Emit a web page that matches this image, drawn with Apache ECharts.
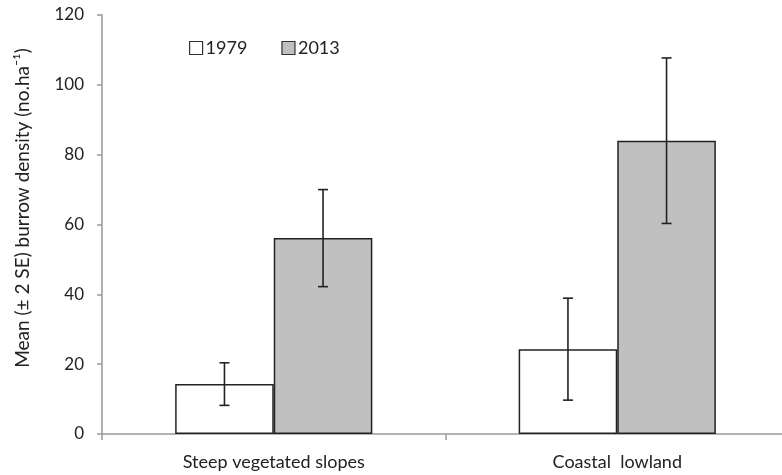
<!DOCTYPE html>
<html>
<head>
<meta charset="utf-8">
<script src="https://cdn.jsdelivr.net/npm/echarts@6/dist/echarts.min.js"></script>
<style>
  html, body { margin: 0; padding: 0; background: #fff; }
  #chart { width: 782px; height: 475px; }
</style>
</head>
<body>
<div id="chart"></div>
<script>
// Habitat categories and survey years
const categories = ['Steep vegetated slopes', 'Coastal  lowland'];
const years = ['1979', '2013'];

// Mean burrow density (no. per ha) by year
const mean1979 = [14.3, 24.3];
const mean2013 = [56.1, 84.0];

// ±2 SE half-widths
const err1979 = [6.1, 14.6];
const err2013 = [13.9, 23.7];

const yTicks = [0, 20, 40, 60, 80, 100, 120];

const FONT = 'Lato, "Open Sans", sans-serif';
const BAR_PCT = 0.287; // bar width as share of category band

function errorSeries(name, means, errs, sideSign) {
  const data = means.map((m, i) => [i, m - errs[i], m + errs[i]]);
  return {
    type: 'custom',
    name: name + ' error',
    z: 10,
    silent: true,
    data: data,
    renderItem: function (params, api) {
      const band = api.size([1, 0])[0];
      const lo = api.coord([api.value(0), api.value(1)]);
      const hi = api.coord([api.value(0), api.value(2)]);
      const x = lo[0] + sideSign * band * BAR_PCT / 2;
      const cap = 5;
      const style = { stroke: '#222', lineWidth: 1.6 };
      return {
        type: 'group',
        children: [
          { type: 'line', shape: { x1: x, y1: hi[1], x2: x, y2: lo[1] }, style: style },
          { type: 'line', shape: { x1: x - cap, y1: hi[1], x2: x + cap, y2: hi[1] }, style: style },
          { type: 'line', shape: { x1: x - cap, y1: lo[1], x2: x + cap, y2: lo[1] }, style: style }
        ]
      };
    }
  };
}

const chart = echarts.init(document.getElementById('chart'));
chart.setOption({
  animation: false,
  backgroundColor: '#fff',
  textStyle: { fontFamily: FONT },
  // plot area runs slightly past the right edge of the canvas
  grid: { left: 102, right: -7, top: 15, bottom: 41, containLabel: false, outerBoundsMode: 'none' },
  legend: {
    data: years,
    icon: 'rect',
    left: 184,
    top: 34,
    itemWidth: 13,
    itemHeight: 13,
    itemGap: 34,
    textStyle: { fontFamily: FONT, fontSize: 18, color: '#222', padding: [0, 0, 0, -2] },
    itemStyle: { borderColor: '#333', borderWidth: 1.2 }
  },
  xAxis: {
    type: 'category',
    data: categories,
    axisLine: { lineStyle: { color: '#999', width: 1.5 } },
    axisTick: { show: true, length: 6, lineStyle: { color: '#999', width: 1.5 } },
    axisLabel: { fontFamily: FONT, fontSize: 18, color: '#222', margin: 19 }
  },
  yAxis: {
    type: 'value',
    min: yTicks[0],
    max: yTicks[yTicks.length - 1],
    interval: 20,
    splitLine: { show: false },
    axisLine: { show: true, lineStyle: { color: '#999', width: 1.5 } },
    axisTick: { show: true, length: 5, lineStyle: { color: '#999', width: 1.5 } },
    axisLabel: { fontFamily: FONT, fontSize: 17, color: '#222', margin: 18 }
  },
  graphic: [{
    type: 'text',
    x: 23,
    y: 208,
    rotation: Math.PI / 2,
    style: {
      text: 'Mean (± 2 SE) burrow density (no.ha⁻¹)',
      fontFamily: FONT,
      fontSize: 19,
      fill: '#222',
      align: 'center',
      verticalAlign: 'middle'
    }
  }],
  series: [
    {
      name: years[0],
      type: 'bar',
      data: mean1979,
      barWidth: (BAR_PCT * 100) + '%',
      barGap: '0%',
      itemStyle: { color: '#ffffff', borderColor: '#222', borderWidth: 1.5 }
    },
    {
      name: years[1],
      type: 'bar',
      data: mean2013,
      barWidth: (BAR_PCT * 100) + '%',
      barGap: '0%',
      itemStyle: { color: '#c0c0c0', borderColor: '#222', borderWidth: 1.5 }
    },
    errorSeries(years[0], mean1979, err1979, -1),
    errorSeries(years[1], mean2013, err2013, 1)
  ]
});
</script>
</body>
</html>
